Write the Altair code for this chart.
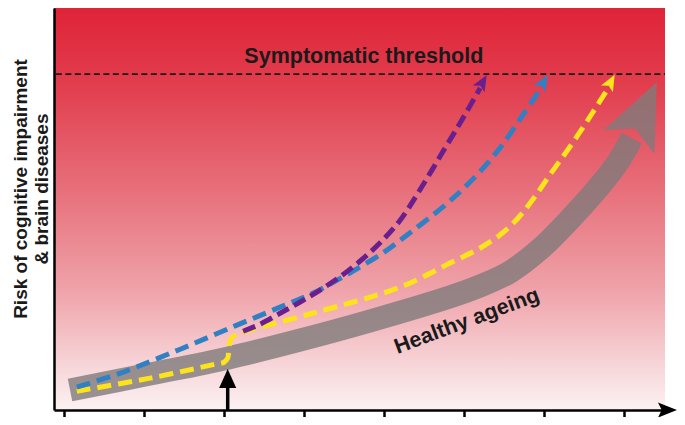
import altair as alt
import pandas as pd

# ---- data (chart units: x = life course, y = risk) ----
X_TICKS = [1.6, 14.6, 27.6, 40.6, 53.6, 66.6, 79.6, 92.6]
THRESHOLD = 83.8
X_MAX = 99.2
Y_MIN = 1.5

gray_x = [2.6, 15.6, 28.2, 39.9, 51.3, 64.3, 69.2, 74.0, 78.9, 83.8, 88.6, 91.6, 93.8]
gray_y = [6.4, 10.3, 14.2, 18.6, 23.3, 29.2, 31.9, 35.3, 40.9, 48.3, 56.4, 62.3, 68.1]

yellow_x = [3.7, 15.6, 26.1, 27.6, 28.2, 28.35, 28.45, 28.7, 29.5, 30.7, 42.0, 56.2, 64.3,
            69.2, 72.4, 75.2, 77.8, 80.5, 83.3, 85.7, 87.8, 89.8]
yellow_y = [6.1, 9.3, 12.7, 13.2, 14.2, 15.7, 17.4, 18.9, 19.9, 20.6, 25.2, 31.6, 37.5,
            41.2, 44.4, 48.3, 53.2, 59.1, 65.0, 70.3, 75.2, 79.9]

blue_x = [3.7, 10.7, 20.5, 29.7, 36.7, 42.0, 46.9, 53.4, 56.2, 63.1, 66.7, 70.0, 72.9, 76.0, 79.1]
blue_y = [7.1, 10.5, 16.4, 22.3, 26.7, 30.1, 34.1, 40.0, 43.1, 51.2, 56.1, 61.3, 66.7, 73.5, 80.4]

purple_x = [30.7, 33.4, 36.7, 39.9, 43.2, 46.4, 49.7, 52.9, 56.2, 59.4, 63.1, 66.2, 69.2]
purple_y = [20.8, 22.5, 25.2, 27.9, 30.9, 34.1, 38.0, 42.4, 48.0, 55.4, 64.7, 72.5, 80.4]

# arrow heads: gray, yellow, blue, purple
head_x = [95.6, 90.4, 79.5, 69.6]
head_y = [74.5, 81.9, 81.9, 81.9]
head_angle = [25, 29, 31, 30]

labels = ["Symptomatic threshold", "Healthy ageing"]
label_x = [50.3, 67.4]
label_y = [86.5, 21.8]
label_angle = [0, 339.5]

ytitle_lines = ["Risk of cognitive impairment", "& brain diseases"]

marker_x = 28.2  # black arrow (intervention point)

# ---- styling ----
FONT = "Liberation Sans"
GRAY = "#7f7a7a"
YELLOW = "#fde31c"
BLUE = "#3280c4"
PURPLE = "#6a1f8f"

BARB = "M0,-1L0.85,1L0,0.55L-0.85,1Z"
TRI = "M0,-1L0.9,1L-0.9,1Z"

xs = alt.Scale(domain=[0, X_MAX], nice=False, zero=False)
ys = alt.Scale(domain=[Y_MIN, 100], nice=False, zero=False)
xaxis = alt.Axis(values=X_TICKS, labels=False, title=None, grid=False, domainColor="black",
                 domainWidth=2.5, tickColor="black", tickWidth=2.5, tickSize=7, zindex=2)
yaxis = alt.Axis(labels=False, ticks=False, title=None, grid=False, domainColor="black",
                 domainWidth=2.5, zindex=2)


def X(f="x"):
    return alt.X(f"{f}:Q", scale=xs, axis=xaxis)


def Y(f="y"):
    return alt.Y(f"{f}:Q", scale=ys, axis=yaxis)


gradient = {
    "gradient": "linear", "x1": 0, "y1": 0, "x2": 0, "y2": 1,
    "stops": [
        {"offset": 0.0, "color": "#df2338"},
        {"offset": 0.2, "color": "#e23f4f"},
        {"offset": 0.45, "color": "#e76f7a"},
        {"offset": 0.7, "color": "#efa2a9"},
        {"offset": 0.9, "color": "#f7d8db"},
        {"offset": 1.0, "color": "#fcf2f3"},
    ],
}

bg = alt.Chart(pd.DataFrame({"x0": [0], "x1": [X_MAX], "y0": [Y_MIN], "y1": [100]})).mark_rect(
    fill=gradient).encode(x=X("x0"), x2="x1", y=Y("y0"), y2="y1")

thr = alt.Chart(pd.DataFrame({"x0": [0.3], "x1": [X_MAX], "y": [THRESHOLD]})).mark_rule(
    color="#1a1a1a", strokeDash=[6, 3.5], strokeWidth=1.6).encode(x=X("x0"), x2="x1", y=Y("y"))


def line_layer(xv, yv, color, width, dash=None, opacity=1.0):
    df = pd.DataFrame({"x": xv, "y": yv, "i": list(range(len(xv)))})
    kw = dict(color=color, strokeWidth=width, interpolate="catmull-rom", strokeCap="butt",
              strokeJoin="round", opacity=opacity)
    if dash:
        kw["strokeDash"] = dash
    return alt.Chart(df).mark_line(**kw).encode(x=X(), y=Y(), order="i:Q")


gray_line = line_layer(gray_x, gray_y, GRAY, 23, opacity=0.8)
yellow_line = line_layer(yellow_x, yellow_y, YELLOW, 5, [14, 7])
blue_line = line_layer(blue_x, blue_y, BLUE, 5, [14, 7])
purple_line = line_layer(purple_x, purple_y, PURPLE, 5, [13, 6])


def head(x, y, ang, color, size, shape=BARB, opacity=1.0):
    df = pd.DataFrame({"x": [x], "y": [y]})
    return alt.Chart(df).mark_point(shape=shape, filled=True, size=size, angle=ang,
                                    color=color, opacity=opacity, strokeWidth=0).encode(
        x=X(), y=Y())


gray_head = head(head_x[0], head_y[0], head_angle[0], GRAY, 4356, opacity=0.8)
yellow_head = head(head_x[1], head_y[1], head_angle[1], YELLOW, 256)
blue_head = head(head_x[2], head_y[2], head_angle[2], BLUE, 256)
purple_head = head(head_x[3], head_y[3], head_angle[3], PURPLE, 256)

lab_df = pd.DataFrame({"label": labels, "x": label_x, "y": label_y, "angle": label_angle})
lab = alt.Chart(lab_df).mark_text(font=FONT, fontWeight="bold", fontSize=21.5, color="#1a1a1a",
                                  align="center", baseline="alphabetic").encode(
    x=X(), y=Y(), text="label:N", angle=alt.Angle("angle:Q", scale=None))

yt1 = alt.Chart(pd.DataFrame({"t": [ytitle_lines[0]]})).mark_text(
    font=FONT, fontWeight="bold", fontSize=19, color="#1a1a1a", angle=270,
    align="center", baseline="alphabetic").encode(
    x=alt.value(-27), y=alt.value(181), text="t:N")
yt2 = alt.Chart(pd.DataFrame({"t": [ytitle_lines[1]]})).mark_text(
    font=FONT, fontWeight="bold", fontSize=19, color="#1a1a1a", angle=270,
    align="center", baseline="alphabetic").encode(
    x=alt.value(-6), y=alt.value(181), text="t:N")

shaft = alt.Chart(pd.DataFrame({"x": [marker_x], "y0": [Y_MIN], "y1": [7.6]})).mark_rule(
    color="black", strokeWidth=3.5).encode(x=X(), y=Y("y0"), y2="y1")
shaft_head = head(marker_x, 9.2, 0, "black", 361, shape=TRI)

axis_head = head(99.6, Y_MIN, 90, "black", 361, shape="M0,-1L0.8,1L0,0.6L-0.8,1Z")

chart = alt.layer(
    bg, thr, gray_line, gray_head, yellow_line, blue_line, purple_line,
    yellow_head, blue_head, purple_head, lab, yt1, yt2, shaft, shaft_head, axis_head,
).properties(
    width=611, height=402,
    padding={"left": 46, "top": 0, "right": 12, "bottom": 7},
    autosize=alt.AutoSizeParams(type="none"),
    background="white",
).configure_view(stroke=None)

chart.save("out.html", embed_options={"renderer": "svg", "actions": False})
